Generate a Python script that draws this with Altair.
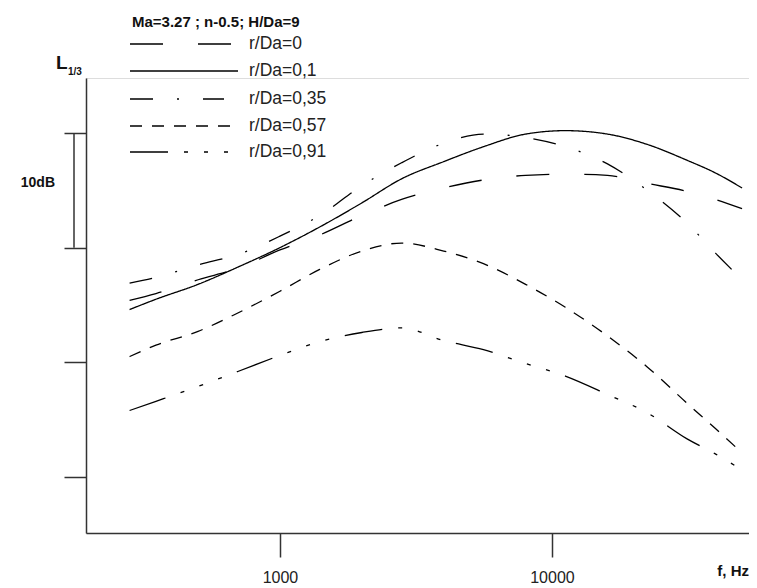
import altair as alt
import pandas as pd

# Frequencies (Hz) and 1/3-octave levels (dB, relative)
freqs = [280, 350, 500, 700, 1000, 1400, 2000, 2800, 4000, 5600, 8000,
         11200, 16000, 22400, 31500, 40000, 50000]
r_0 = [15.4, 16.0, 17.2, 18.2, 19.8, 21.1, 22.8, 24.2, 25.2, 25.9, 26.3,
       26.4, 26.3, 25.6, 24.9, 24.2, 23.4]
r_01 = [14.6, 15.5, 16.8, 18.3, 20.0, 21.8, 23.9, 26.0, 27.5, 28.8, 29.9,
        30.2, 29.9, 29.0, 27.6, 26.5, 25.2]
r_035 = [16.9, 17.4, 18.5, 19.4, 21.0, 22.8, 25.4, 27.4, 29.1, 29.9, 29.6,
         28.8, 27.3, 25.0, 22.1, 19.5, 17.2]
r_057 = [10.5, 11.5, 12.7, 14.3, 16.2, 18.1, 19.7, 20.4, 19.7, 18.6, 16.8,
         14.8, 12.3, 9.6, 6.4, 4.2, 2.1]
r_091 = [5.8, 6.6, 7.9, 9.2, 10.6, 11.8, 12.6, 13.0, 11.9, 11.1, 9.9,
         8.8, 7.2, 5.6, 3.3, 2.0, 0.6]

labels = ["r/Da=0", "r/Da=0,1", "r/Da=0,35", "r/Da=0,57", "r/Da=0,91"]
series = [r_0, r_01, r_035, r_057, r_091]
dashes = [[33, 35], [1, 0], [23, 24, 2, 24], [12, 10],
          [38, 16, 4, 16, 4, 16, 4, 16]]
x_ticks = [1000, 10000]
y_ticks = [0, 10, 20, 30]
title_text = "Ma=3.27 ; n-0.5; H/Da=9"

rows = []
for lab, vals in zip(labels, series):
    for f, v in zip(freqs, vals):
        rows.append({"series": lab, "f": f, "L": v})
df = pd.DataFrame(rows)

W, H = 663, 455
FONT = "Liberation Sans"
AX = "#333333"

xscale = alt.Scale(type="log", domain=[193.6, 53020], nice=False)
yscale = alt.Scale(domain=[-4.88, 34.79], nice=False, zero=False)

lines = alt.Chart(df).mark_line(color="black", strokeWidth=1.3,
                                interpolate="monotone").encode(
    x=alt.X("f:Q", scale=xscale,
            axis=alt.Axis(values=x_ticks, format="d", tickSize=24,
                          labelFontSize=16, labelPadding=12, title=None,
                          grid=False, domainColor=AX, tickColor=AX,
                          domainWidth=1.5, tickWidth=1.5, labelColor="#222",
                          labelFont=FONT, labelFlush=False)),
    y=alt.Y("L:Q", scale=yscale,
            axis=alt.Axis(values=y_ticks, tickSize=22, labels=False,
                          title=None, grid=False, domainColor=AX,
                          tickColor=AX, domainWidth=1.5, tickWidth=1.5)),
    strokeDash=alt.StrokeDash("series:N",
                              scale=alt.Scale(domain=labels, range=dashes),
                              legend=None),
    detail="series:N",
)

one = pd.DataFrame({"a": [0]})

bracket = alt.Chart(one).mark_rule(color=AX, strokeWidth=1.5).encode(
    x=alt.value(-12), y=alt.datum(30), y2=alt.datum(20))

db_text = alt.Chart(one).mark_text(text="10dB", font=FONT, fontSize=14,
                                   fontWeight="bold", align="right",
                                   baseline="middle", color="#111").encode(
    x=alt.value(-31), y=alt.value(105))

l_text = alt.Chart(one).mark_text(text="L", font=FONT, fontSize=19,
                                  fontWeight="bold", align="left",
                                  baseline="alphabetic", color="#111").encode(
    x=alt.value(-30), y=alt.value(-9))
sub_text = alt.Chart(one).mark_text(text="1/3", font=FONT, fontSize=10,
                                    fontWeight="bold", align="left",
                                    baseline="alphabetic", color="#111").encode(
    x=alt.value(-18), y=alt.value(-3))

fhz_text = alt.Chart(one).mark_text(text="f, Hz", font=FONT, fontSize=15,
                                    fontWeight="bold", align="right",
                                    baseline="middle", color="#111").encode(
    x=alt.value(663), y=alt.value(493))

title = alt.Chart(one).mark_text(text=title_text, font=FONT, fontSize=15,
                                 fontWeight="bold", align="left",
                                 baseline="alphabetic", color="#111").encode(
    x=alt.value(46), y=alt.value(-51))

layers = [lines, bracket, db_text, l_text, sub_text, fhz_text, title]

row_y = [-34, -7, 21, 48, 74]
sample_end = [146, 152, 138, 146, 146]
for lab, d, yy, xe in zip(labels, dashes, row_y, sample_end):
    rule_kw = {}
    if d != [1, 0]:
        rule_kw["strokeDash"] = d
    layers.append(
        alt.Chart(one).mark_rule(color="black", strokeWidth=1.3, **rule_kw)
        .encode(x=alt.value(44), x2=alt.value(xe), y=alt.value(yy)))
    layers.append(
        alt.Chart(one).mark_text(text=lab, font=FONT, fontSize=17.5,
                                 align="left", baseline="middle",
                                 color="#222")
        .encode(x=alt.value(163), y=alt.value(yy)))

chart = alt.layer(*layers).properties(
    width=W, height=H,
    padding={"left": 78, "top": 70, "right": 0, "bottom": 55},
    autosize=alt.AutoSizeParams(type="none"),
).configure_view(stroke=None).configure(background="white")

chart.save("out.html", embed_options={"renderer": "svg", "actions": False})
